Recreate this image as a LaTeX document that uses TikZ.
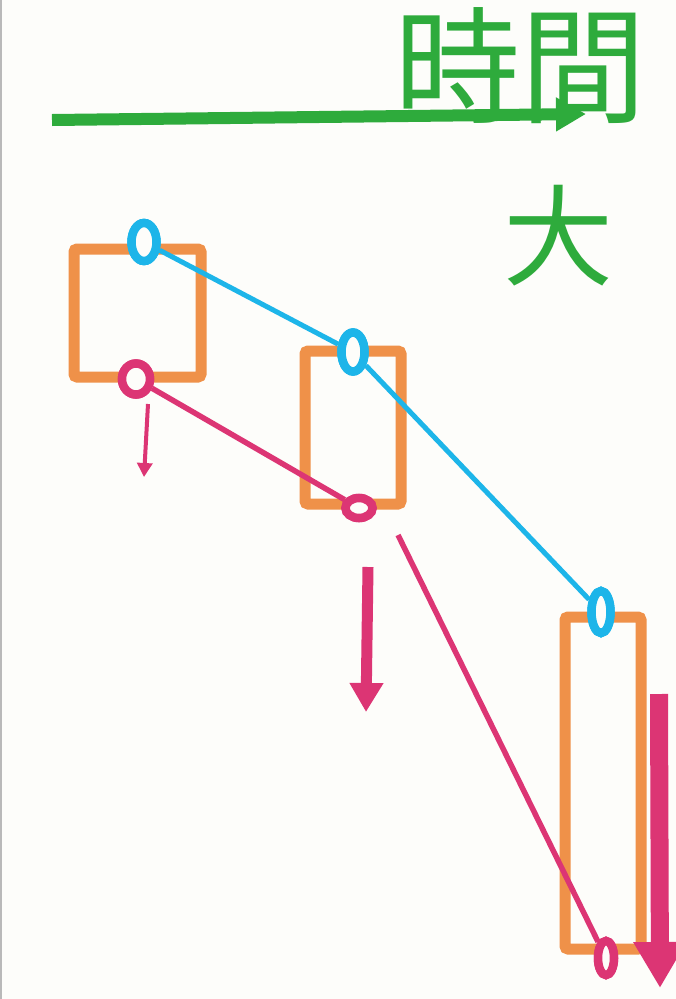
\documentclass[tikz,border=0pt]{standalone}
\usepackage{fontspec}
\newfontfamily\jpfont{Noto Sans CJK JP}
\usetikzlibrary{shapes.geometric,arrows.meta}
\definecolor{bgc}{HTML}{FDFDFA}
\definecolor{grn}{HTML}{2EAB3C}
\definecolor{org}{HTML}{EF9149}
\definecolor{blu}{HTML}{1DB5E9}
\definecolor{mag}{HTML}{DC3574}
\tikzset{
  candle/.style={draw=org, line width=11pt, rounded corners=3pt, inner sep=0pt},
  ring/.style={ellipse, line width=8.5pt, inner sep=0pt},
  bring/.style={ring, draw=blu, fill=bgc},
  mring/.style={ring, draw=mag, fill=bgc},
  bline/.style={draw=blu, line width=5pt},
  mline/.style={draw=mag, line width=5.5pt},
  gtext/.style={text=grn, font=\jpfont\fontsize{126}{126}\selectfont, inner sep=0pt},
}
\begin{document}
\begin{tikzpicture}[x=1pt,y=-1pt]
\useasboundingbox (0,0) rectangle (676,999);
\fill[bgc] (0,0) rectangle (676,999);
\draw[gray!55, line width=1.5pt] (0.75,0) -- (0.75,999);
% time arrow
\coordinate (t0) at (52,120);
\coordinate (t1) at (586,114);
\draw[grn, line width=12pt, -{Triangle[width=32pt,length=30pt]}] (t0) -- (t1);
\node[gtext] (jikan) at (520,66) {時間};
\node[gtext, font=\jpfont\fontsize{110}{110}\selectfont] (dai) at (558,236) {大};
% candles
\node[candle, minimum width=127pt, minimum height=128pt] (box1) at (137.5,313) {};
\node[candle, minimum width=96pt, minimum height=153pt] (box2) at (353,427.5) {};
\node[candle, minimum width=76pt, minimum height=332pt] (box3) at (603,783) {};
% rings
\node[bring, minimum width=25pt, minimum height=38pt] (b1) at (144,242) {};
\node[bring, minimum width=23pt, minimum height=39pt] (b2) at (353,352) {};
\node[bring, minimum width=19pt, minimum height=42pt] (b3) at (601,612) {};
\node[mring, minimum width=28pt, minimum height=31pt] (m1) at (136,379) {};
\node[mring, minimum width=27pt, minimum height=20pt] (m2) at (359,508) {};
\node[mring, minimum width=16pt, minimum height=34pt] (m3) at (606,958) {};
% connectors
\draw[bline] (b1) -- (b2);
\draw[bline] (b2) -- (b3);
\draw[mline] (m1) -- (m2);
\coordinate (ms) at (398,535);
\draw[mline] (ms) -- (m3);
% re-draw rings on top
\node[bring, minimum width=25pt, minimum height=38pt] at (b1) {};
\node[bring, minimum width=23pt, minimum height=39pt] at (b2) {};
\node[bring, minimum width=19pt, minimum height=42pt] at (b3) {};
\node[mring, minimum width=28pt, minimum height=31pt] at (m1) {};
\node[mring, minimum width=27pt, minimum height=20pt] at (m2) {};
\node[mring, minimum width=16pt, minimum height=34pt] at (m3) {};
% down arrows
\coordinate (a1s) at (148,404);
\coordinate (a1e) at (144,477);
\draw[mag, line width=4pt, -{Triangle[width=15pt,length=14pt]}] (a1s) -- (a1e);
\coordinate (a2s) at (368,567);
\coordinate (a2e) at (366,712);
\draw[mag, line width=11pt, -{Triangle[width=32pt,length=29pt]}] (a2s) -- (a2e);
\coordinate (a3s) at (659,694);
\coordinate (a3e) at (660,988);
\draw[mag, line width=18pt, -{Triangle[width=50pt,length=46pt]}] (a3s) -- (a3e);
\end{tikzpicture}
\end{document}
